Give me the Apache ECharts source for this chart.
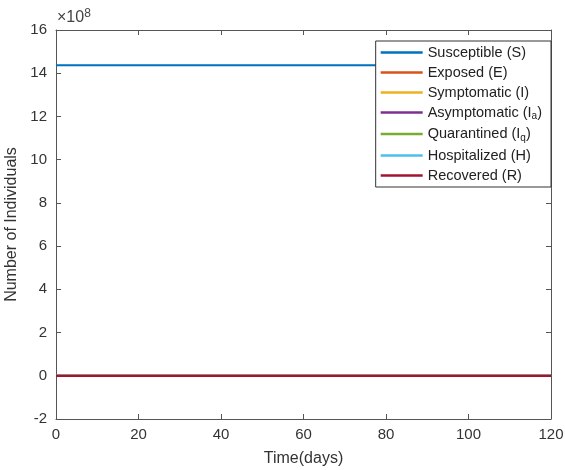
<!DOCTYPE html>
<html>
<head>
<meta charset="utf-8">
<script src="https://cdn.jsdelivr.net/npm/echarts@6/dist/echarts.min.js"></script>
<style>
  html, body { margin: 0; padding: 0; background: #fff; }
  #chart { width: 565px; height: 470px; }
</style>
</head>
<body>
<div id="chart"></div>
<script>
  // time in days, values in units of 1e8 individuals
  var days = [0, 10, 20, 30, 40, 50, 60, 70, 80, 90, 100, 110, 120];
  var susceptible  = [14.37, 14.37, 14.37, 14.37, 14.37, 14.37, 14.37, 14.37, 14.37, 14.37, 14.37, 14.37, 14.37];
  var exposed      = [0, 0, 0, 0, 0, 0, 0, 0, 0, 0, 0, 0, 0];
  var symptomatic  = [0, 0, 0, 0, 0, 0, 0, 0, 0, 0, 0, 0, 0];
  var asymptomatic = [0, 0, 0, 0, 0, 0, 0, 0, 0, 0, 0, 0, 0];
  var quarantined  = [0, 0, 0, 0, 0, 0, 0, 0, 0, 0, 0, 0, 0];
  var hospitalized = [0, 0, 0, 0, 0, 0, 0, 0, 0, 0, 0, 0, 0];
  var recovered    = [0, 0, 0, 0, 0, 0, 0, 0, 0, 0, 0, 0, 0];

  var names = ['Susceptible (S)', 'Exposed (E)', 'Symptomatic (I)', 'Asymptomatic (I{sub|a})',
               'Quarantined (I{sub|q})', 'Hospitalized (H)', 'Recovered (R)'];
  var colors = ['#0072BD', '#D95319', '#EDB120', '#7E2F8E', '#77AC30', '#4DBEEE', '#A2142F'];
  var values = [susceptible, exposed, symptomatic, asymptomatic, quarantined, hospitalized, recovered];

  var font = '"Liberation Sans", Arial, sans-serif';
  var axisColor = '#555';

  function pairs(arr) {
    return days.map(function (d, i) { return [d, arr[i]]; });
  }

  var series = names.map(function (n, k) {
    return {
      name: n,
      type: 'line',
      data: pairs(values[k]),
      showSymbol: false,
      lineStyle: { width: 2.2, color: colors[k] },
      itemStyle: { color: colors[k] },
      z: 2 + k
    };
  });

  var myChart = echarts.init(document.getElementById('chart'));
  var axisCommon = {
    type: 'value',
    axisLine: { show: true, onZero: false, lineStyle: { color: axisColor, width: 1 } },
    axisTick: { show: true, inside: true, length: 5, lineStyle: { color: axisColor, width: 1 } },
    splitLine: { show: false }
  };
  myChart.setOption({
    animation: false,
    grid: { left: 56, top: 30, right: 14, bottom: 51, containLabel: false, outerBoundsMode: 'none' },
    xAxis: [
      Object.assign({}, axisCommon, {
        min: 0, max: 120, interval: 20,
        name: 'Time(days)', nameLocation: 'middle', nameGap: 32,
        nameTextStyle: { fontFamily: font, fontSize: 16, color: '#333' },
        axisLabel: { fontFamily: font, fontSize: 15, color: '#333', margin: 8 }
      }),
      Object.assign({}, axisCommon, {
        position: 'top', min: 0, max: 120, interval: 20,
        axisLabel: { show: false }
      })
    ],
    yAxis: [
      Object.assign({}, axisCommon, {
        min: -2, max: 16, interval: 2,
        name: 'Number of Individuals', nameLocation: 'middle', nameGap: 36,
        nameTextStyle: { fontFamily: font, fontSize: 16, color: '#333' },
        axisLabel: { fontFamily: font, fontSize: 15, color: '#333', margin: 9 }
      }),
      Object.assign({}, axisCommon, {
        position: 'right', min: -2, max: 16, interval: 2,
        axisLabel: { show: false }
      })
    ],
    legend: {
      orient: 'vertical',
      right: 14,
      top: 41,
      backgroundColor: '#fff',
      borderColor: '#333',
      borderWidth: 1,
      borderRadius: 0,
      padding: [4, 9, 4, 5],
      itemGap: 5,
      itemWidth: 42,
      itemHeight: 2.5,
      icon: 'rect',
      data: names,
      textStyle: {
        fontFamily: font, fontSize: 14.5, color: '#222',
        rich: {
          sub: { fontFamily: font, fontSize: 10, color: '#222', verticalAlign: 'bottom', padding: [8, 0, 0, 0] }
        }
      }
    },
    graphic: [{
      type: 'text',
      left: 57,
      top: 8,
      style: {
        text: '×10{sup|8}',
        font: '16px ' + font,
        fill: '#444',
        rich: { sup: { fontSize: 12, fill: '#444', verticalAlign: 'top', padding: [0, 0, 7, 0] } }
      }
    }],
    series: series
  });
</script>
</body>
</html>
